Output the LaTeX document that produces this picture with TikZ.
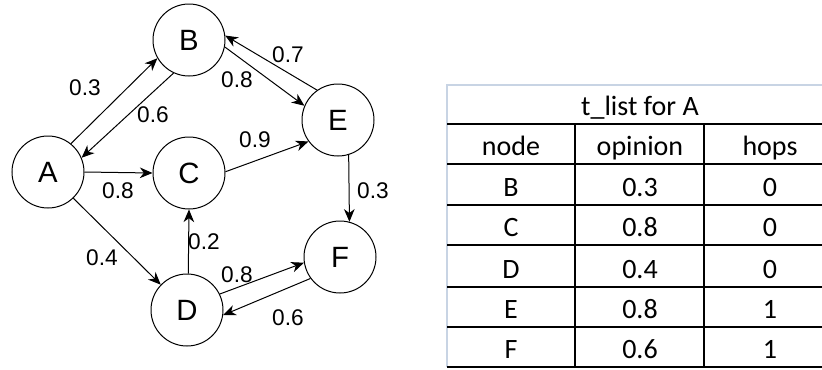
\documentclass[tikz,border=0pt]{standalone}
\usepackage{fontspec}
\setmainfont{Liberation Sans}
\newfontfamily\tablefont{Carlito}
\usetikzlibrary{arrows.meta}
\definecolor{tabframe}{RGB}{200,212,228}
\tikzset{
  vertex/.style={draw, circle, minimum size=54pt, inner sep=0pt, line width=0.75pt,
    font=\fontsize{22}{25}\selectfont},
  weight/.style={inner sep=0pt, font=\fontsize{17}{20}\selectfont},
  link/.style={line width=0.75pt, -{Stealth[length=9.5pt,width=8pt,inset=3pt]}},
  cell/.style={inner sep=0pt, anchor=base, font=\tablefont\fontsize{21}{24}\selectfont},
  tabrule/.style={line width=1.1pt},
  tabedge/.style={line width=0.9pt, draw=tabframe}
}
\begin{document}
\begin{tikzpicture}[x=0.75pt, y=-0.75pt]
        \useasboundingbox (0, 0) rectangle (822, 369);
        %%nodes
        \node[vertex] (A) at(48, 172){A};
        \node[vertex] (B) at(189, 40){B};
        \node[vertex] (C) at(189, 173){C};
        \node[vertex] (D) at(187, 310){D};
        \node[vertex] (E) at(338, 120){E};
        \node[vertex] (F) at(340, 257){F};

        %%edges out of A
        \draw[link](A.51) to (B.210);
            \node[weight] (wAB) at(85, 88){0.3};
        \draw[link](B.245) to (A.23);
            \node[weight] (wBA) at(153, 115){0.6};
        \draw[link](A.0) to (C.180);
            \node[weight] (wAC) at(118, 191){0.8};
        \draw[link](A.314) to (D.136);
            \node[weight] (wAD) at(102, 258){0.4};

        %%edges round E
        \draw[link](B.349) to (E.157);
            \node[weight] (wBE) at(237, 80){0.8};
        \draw[link](E.125) to (B.7);
            \node[weight] (wEB) at(288, 55){0.7};
        \draw[link](C.2) to (E.216);
            \node[weight] (wCE) at(255, 140){0.9};
        \draw[link](E.287) to (F.75);
            \node[weight] (wEF) at(373, 191){0.3};

        %%edges round D
        \draw[link](D.88) to (C.270);
            \node[weight] (wDC) at(204, 242){0.2};
        \draw[link](D.26) to (F.189);
            \node[weight] (wDF) at(237, 275){0.8};
        \draw[link](F.216) to (D.352);
            \node[weight] (wFD) at(288, 318){0.6};

        %%table frame
        \draw[tabedge](447, 367) to (447, 85) to (822, 85);
        \draw[tabrule](447, 124) to (822, 124);
        \draw[tabrule](447, 164) to (822, 164);
        \draw[tabrule](447, 205) to (822, 205);
        \draw[tabrule](447, 245) to (822, 245);
        \draw[tabrule](447, 287) to (822, 287);
        \draw[tabrule](447, 327) to (822, 327);
        \draw[tabrule](447, 367) to (822, 367);
            \draw[tabrule](575, 124) to (575, 367);
            \draw[tabrule](704, 124) to (704, 367);

        %%title and head
        \node[cell] (title) at(640, 115){t\_list for A};
        \node[cell] (hnode) at(511, 155){node};
        \node[cell] (hopinion) at(640, 155){opinion};
        \node[cell] (hhops) at(770, 155){hops};

        %%rows
        \node[cell] (nB) at(511, 196){B};
        \node[cell] (oB) at(640, 196){0.3};
        \node[cell] (kB) at(770, 196){0};
        \node[cell] (nC) at(511, 236){C};
        \node[cell] (oC) at(640, 236){0.8};
        \node[cell] (kC) at(770, 236){0};
        \node[cell] (nD) at(511, 278){D};
        \node[cell] (oD) at(640, 278){0.4};
        \node[cell] (kD) at(770, 278){0};
        \node[cell] (nE) at(511, 318){E};
        \node[cell] (oE) at(640, 318){0.8};
        \node[cell] (kE) at(770, 318){1};
        \node[cell] (nF) at(511, 358){F};
        \node[cell] (oF) at(640, 358){0.6};
        \node[cell] (kF) at(770, 358){1};
\end{tikzpicture}
\end{document}
